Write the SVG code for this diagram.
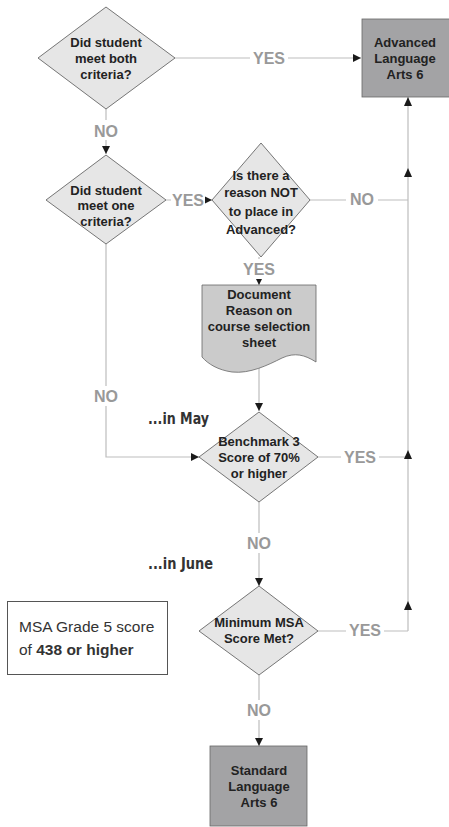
<svg xmlns="http://www.w3.org/2000/svg" width="449" height="827" viewBox="0 0 449 827">
  <defs>
    <marker id="arrow" viewBox="0 0 10 10" refX="10" refY="5" markerWidth="8" markerHeight="8" markerUnits="userSpaceOnUse" orient="auto">
      <path d="M0,0 L10,5 L0,10 Z" fill="#1a1a1a"/>
    </marker>
    <style>
      .decision { fill: #e6e6e6; stroke: #555; stroke-width: 0.8; }
      .terminal { fill: #a3a3a5; stroke: #666; stroke-width: 0.8; }
      .doc { fill: #cbcbcb; stroke: #666; stroke-width: 0.8; }
      .node-text { font-family: "Liberation Sans", Arial, sans-serif; font-weight: bold; font-size: 13px; fill: #222; text-anchor: middle; }
      .link { fill: none; stroke: #bdbdbd; stroke-width: 1.2; }
      .label { font-family: "Liberation Sans", Arial, sans-serif; font-weight: bold; font-size: 16px; fill: #999; text-anchor: middle; }
      .note { font-family: "DejaVu Sans Condensed", "Liberation Sans", sans-serif; font-stretch: condensed; font-weight: bold; font-size: 16px; fill: #333; }
      .legend { font-family: "Liberation Sans", Arial, sans-serif; font-size: 15.5px; fill: #333; }
    </style>
  </defs>
  <rect width="449" height="827" fill="#ffffff"/>

  <!-- connectors -->
  <g id="connectors">
    <!-- both criteria YES -> Advanced -->
    <path class="link" d="M175,58 H361" marker-end="url(#arrow)"/>
    <!-- both criteria NO -> one criteria -->
    <path class="link" d="M106,109 V154" marker-end="url(#arrow)"/>
    <!-- one criteria YES -> reason -->
    <path class="link" d="M166,200 H212" marker-end="url(#arrow)"/>
    <!-- reason YES -> document -->
    <path class="link" d="M259,257 V285" marker-end="url(#arrow)"/>
    <!-- reason NO -> right rail -->
    <path class="link" d="M310,200 H408"/>
    <!-- document -> benchmark -->
    <path class="link" d="M259,364 V411" marker-end="url(#arrow)"/>
    <!-- one criteria NO -> benchmark -->
    <path class="link" d="M106,244 V457 H199" marker-end="url(#arrow)"/>
    <!-- benchmark YES -> right rail -->
    <path class="link" d="M318,457 H408"/>
    <!-- benchmark NO -> MSA -->
    <path class="link" d="M259,502 V586" marker-end="url(#arrow)"/>
    <!-- MSA YES -> right rail -->
    <path class="link" d="M318,631 H408"/>
    <!-- MSA NO -> Standard -->
    <path class="link" d="M259,675 V746" marker-end="url(#arrow)"/>
    <!-- right rail up to Advanced -->
    <path class="link" d="M408,631 V97"/>
    <path d="M404,106 L408,97 L412,106 Z" fill="#1a1a1a"/>
    <path d="M404,177 L408,168 L412,177 Z" fill="#1a1a1a"/>
    <path d="M404,459 L408,450 L412,459 Z" fill="#1a1a1a"/>
    <path d="M404,610 L408,601 L412,610 Z" fill="#1a1a1a"/>

    <!-- branch labels -->
    <rect x="250" y="48" width="38" height="20" fill="#fff"/>
    <text class="label" x="269" y="64">YES</text>
    <rect x="90" y="120" width="32" height="20" fill="#fff"/>
    <text class="label" x="106" y="137">NO</text>
    <rect x="171" y="190" width="34" height="20" fill="#fff"/>
    <text class="label" x="188" y="206">YES</text>
    <rect x="346" y="190" width="32" height="20" fill="#fff"/>
    <text class="label" x="362" y="205">NO</text>
    <rect x="241" y="259" width="36" height="20" fill="#fff"/>
    <text class="label" x="259" y="275">YES</text>
    <rect x="90" y="386" width="32" height="20" fill="#fff"/>
    <text class="label" x="106" y="402">NO</text>
    <rect x="341" y="447" width="38" height="20" fill="#fff"/>
    <text class="label" x="360" y="463">YES</text>
    <rect x="243" y="533" width="32" height="20" fill="#fff"/>
    <text class="label" x="259" y="549">NO</text>
    <rect x="346" y="621" width="38" height="20" fill="#fff"/>
    <text class="label" x="365" y="636">YES</text>
    <rect x="243" y="700" width="32" height="20" fill="#fff"/>
    <text class="label" x="259" y="716">NO</text>
  </g>

  <g id="both-criteria">
    <polygon class="decision" points="106,7 175,58 106,109 38,58"/>
    <text class="node-text" x="106" y="47">Did student</text>
    <text class="node-text" x="106" y="63">meet both</text>
    <text class="node-text" x="106" y="79">criteria?</text>
  </g>

  <g id="advanced">
    <rect class="terminal" x="362" y="19" width="88" height="78"/>
    <text class="node-text" x="405" y="47">Advanced</text>
    <text class="node-text" x="405" y="63">Language</text>
    <text class="node-text" x="405" y="79">Arts 6</text>
  </g>

  <g id="one-criteria">
    <polygon class="decision" points="106,155 166,200 106,244 46,200"/>
    <text class="node-text" x="106" y="195">Did student</text>
    <text class="node-text" x="106" y="210">meet one</text>
    <text class="node-text" x="106" y="226">criteria?</text>
  </g>

  <g id="reason-not">
    <polygon class="decision" points="261,143 310,200 261,257 212,200"/>
    <text class="node-text" x="261" y="180">Is there a</text>
    <text class="node-text" x="261" y="197">reason NOT</text>
    <text class="node-text" x="261" y="216">to place in</text>
    <text class="node-text" x="261" y="234">Advanced?</text>
  </g>

  <g id="document-reason">
    <path class="doc" d="M202,285 H316 V362 C305,355 295,352 282,358 C268,365 250,374 232,372 C218,370 208,364 202,357 Z"/>
    <text class="node-text" x="259" y="299">Document</text>
    <text class="node-text" x="259" y="315">Reason on</text>
    <text class="node-text" x="259" y="331">course selection</text>
    <text class="node-text" x="259" y="347">sheet</text>
  </g>

  <text class="note" x="148" y="424" textLength="61" lengthAdjust="spacingAndGlyphs">...in May</text>

  <g id="benchmark">
    <polygon class="decision" points="259,412 318,457 259,502 199,457"/>
    <text class="node-text" x="259" y="446">Benchmark 3</text>
    <text class="node-text" x="259" y="462">Score of 70%</text>
    <text class="node-text" x="259" y="478">or higher</text>
  </g>

  <text class="note" x="148" y="569" textLength="65" lengthAdjust="spacingAndGlyphs">...in June</text>

  <g id="msa-met">
    <polygon class="decision" points="259,586 318,631 259,675 199,631"/>
    <text class="node-text" x="259" y="627">Minimum MSA</text>
    <text class="node-text" x="259" y="643">Score Met?</text>
  </g>

  <g id="legend">
    <rect x="7.5" y="601.5" width="160" height="73" fill="#fff" stroke="#555" stroke-width="1"/>
    <text class="legend" x="19" y="632">MSA Grade 5 score</text>
    <text class="legend" x="19" y="655">of <tspan font-weight="bold">438 or higher</tspan></text>
  </g>

  <g id="standard">
    <rect class="terminal" x="210" y="746" width="97" height="80"/>
    <text class="node-text" x="259" y="775">Standard</text>
    <text class="node-text" x="259" y="791">Language</text>
    <text class="node-text" x="259" y="807">Arts 6</text>
  </g>
</svg>
